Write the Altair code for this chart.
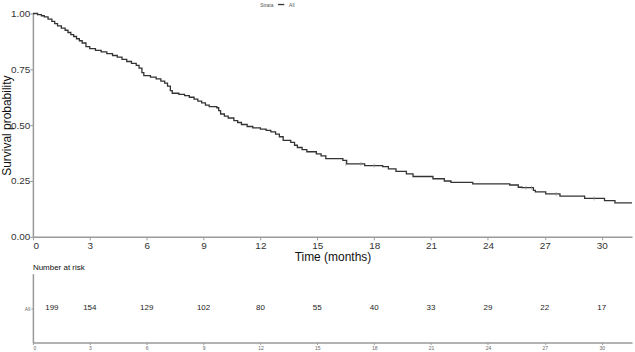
import altair as alt
import pandas as pd

# Kaplan-Meier step curve (time in months, survival probability)
times = [0, 0.25, 0.45, 0.6, 0.8, 1.0, 1.15, 1.3, 1.5, 1.7, 1.85, 2.0, 2.15, 2.3, 2.45,
         2.6, 2.8, 3.0, 3.3, 3.6, 3.9, 4.2, 4.45, 4.7, 4.95, 5.2, 5.45, 5.6, 5.75, 5.85,
         6.2, 6.5, 6.75, 6.95, 7.1, 7.25, 7.35, 7.7, 8.0, 8.25, 8.5, 8.7, 8.9, 9.1, 9.3,
         9.7, 9.8, 9.9, 10.1, 10.3, 10.6, 10.8, 11.0, 11.3, 11.6, 12.0, 12.3, 12.55, 12.8,
         13.0, 13.2, 13.6, 13.8, 13.95, 14.2, 14.45, 14.95, 15.2, 15.45, 16.35, 16.55,
         17.5, 18.45, 18.75, 19.15, 19.7, 20.05, 21.1, 21.7, 22.05, 23.2, 25.15, 25.6,
         25.8, 26.4, 26.5, 27.05, 27.8, 29.1, 30.15, 30.7, 31.6]
surv = [1.000, 0.995, 0.990, 0.985, 0.975, 0.965, 0.955, 0.945, 0.935, 0.925, 0.915,
        0.905, 0.897, 0.887, 0.878, 0.868, 0.852, 0.843, 0.835, 0.828, 0.820, 0.812,
        0.805, 0.795, 0.785, 0.777, 0.768, 0.755, 0.735, 0.722, 0.715, 0.707, 0.697,
        0.688, 0.675, 0.655, 0.643, 0.638, 0.632, 0.625, 0.617, 0.608, 0.600, 0.590,
        0.583, 0.578, 0.565, 0.550, 0.540, 0.532, 0.520, 0.512, 0.503, 0.494, 0.488,
        0.482, 0.477, 0.470, 0.460, 0.448, 0.432, 0.423, 0.410, 0.400, 0.390, 0.381,
        0.371, 0.362, 0.350, 0.342, 0.327, 0.319, 0.314, 0.304, 0.293, 0.282, 0.270,
        0.260, 0.250, 0.244, 0.237, 0.232, 0.222, 0.220, 0.208, 0.201, 0.192, 0.182,
        0.172, 0.162, 0.152, 0.152]

# censoring marks
cens_times = [16.5, 17.3, 18.0, 26.0, 26.3, 27.6, 29.6]
cens_surv = [0.327, 0.327, 0.319, 0.220, 0.220, 0.192, 0.172]

# number at risk table
risk_pos = [1, 3, 6, 9, 12, 15, 18, 21, 24, 27, 30]
risk_n = [199, 154, 129, 102, 80, 55, 40, 33, 29, 22, 17]

x_ticks = [0, 3, 6, 9, 12, 15, 18, 21, 24, 27, 30]
y_ticks = [0, 0.25, 0.5, 0.75, 1.0]

FONT = "Liberation Sans"
XMAX = 31.6

km = pd.DataFrame({"time": times, "surv": surv, "strata": "All"})
cens = pd.DataFrame({"time": cens_times, "surv": cens_surv, "strata": "All"})
risk = pd.DataFrame({"time": risk_pos, "n": risk_n, "strata": "All"})

xscale = alt.Scale(domain=[0, XMAX], nice=False, zero=False)

line = alt.Chart(km).mark_line(interpolate="step-after", strokeWidth=1.3).encode(
    x=alt.X("time:Q", scale=xscale,
            axis=alt.Axis(values=x_ticks, title="Time (months)", grid=False,
                          labelFontSize=10, titleFontSize=12, labelColor="#333",
                          titleColor="#111", domainColor="#999", domainWidth=1.5,
                          tickColor="#999", tickSize=3, labelPadding=1, titlePadding=1,
                          labelFont=FONT, titleFont=FONT, titleFontWeight="normal")),
    y=alt.Y("surv:Q", scale=alt.Scale(domain=[0, 1], nice=False),
            axis=alt.Axis(values=y_ticks, format=".2f", title="Survival probability",
                          grid=False, labelFontSize=10, titleFontSize=12,
                          labelColor="#333", titleColor="#111", domainColor="#999",
                          domainWidth=1.5, tickColor="#999", tickSize=3, labelPadding=0,
                          titlePadding=-3, labelFont=FONT, titleFont=FONT,
                          titleFontWeight="normal")),
    color=alt.Color("strata:N", scale=alt.Scale(range=["#333333"]),
                    legend=alt.Legend(title="Strata", orient="none", legendX=228,
                                      legendY=-13, direction="horizontal",
                                      titleOrient="left", symbolType="stroke",
                                      symbolSize=40, symbolStrokeWidth=1.3,
                                      labelFontSize=5, titleFontSize=5,
                                      titleFontWeight="normal", labelFont=FONT,
                                      titleFont=FONT, labelColor="#555",
                                      titleColor="#555", padding=0, titlePadding=3)),
)

ticks = alt.Chart(cens).mark_tick(orient="vertical", size=4, thickness=1,
                                   color="#999").encode(
    x=alt.X("time:Q", scale=xscale), y=alt.Y("surv:Q"))

top = alt.layer(line, ticks).properties(width=601, height=224)

bottom = alt.Chart(risk).mark_text(fontSize=8, font=FONT, color="#222").encode(
    x=alt.X("time:Q", scale=xscale,
            axis=alt.Axis(values=x_ticks, title=None, grid=False, labelFontSize=5,
                          labelColor="#666", domainColor="#999", domainWidth=1.5,
                          tickColor="#999", tickSize=2, labelPadding=1, labelFont=FONT)),
    y=alt.Y("strata:N", axis=alt.Axis(title=None, labelFontSize=5, labelColor="#666",
                                      domainColor="#999", domainWidth=1.5,
                                      tickColor="#999", tickSize=2, labelPadding=1,
                                      labelFont=FONT)),
    text="n:Q",
).properties(width=601, height=69,
             title=alt.TitleParams("Number at risk", anchor="start", frame="group",
                                   fontSize=8, font=FONT, fontWeight="normal",
                                   color="#111", offset=2))

chart = alt.vconcat(top, bottom, spacing=1).properties(
    padding={"left": 0, "top": 0, "right": 0, "bottom": 0},
    background="white",
).configure_view(strokeWidth=0, stroke="transparent")

chart.save("out.html", embed_options={"renderer": "svg", "actions": False})
